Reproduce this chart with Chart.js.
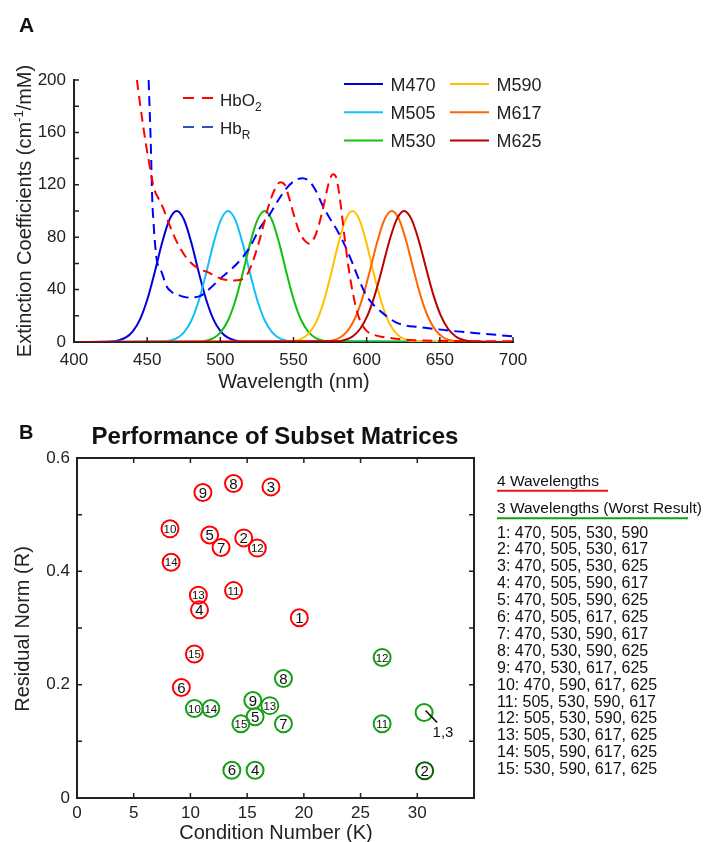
<!DOCTYPE html>
<html>
<head>
<meta charset="utf-8">
<title>LED spectra and subset matrices</title>
<script src="https://cdn.jsdelivr.net/npm/chart.js@4.4.1/dist/chart.umd.min.js"></script>
<style>
html,body{margin:0;padding:0;background:#fff;}
body{width:707px;height:842px;position:relative;overflow:hidden;}
canvas{position:absolute;left:0;}
#chartA{top:0;}
#chartB{top:400px;}
</style>
</head>
<body>
<canvas id="chartA" width="707" height="395"></canvas>
<canvas id="chartB" width="707" height="442"></canvas>
<script>
// panel A: extinction spectra (cm-1/mM)
const hbo2Wl  = [443,445,447,449,451,453,455,458,461,465,470,477,485,491,500,509,514,518,521,525,529,533,537,541,544,547,550,554,558,561,564,567,571,574,577,579,581,583,585,588,591,594,597,600,605,610,620,630,650,680,700];
const hbo2Val = [200,183,167,152,139,126,116,109,102,90,77,64,56,53.5,48.5,47,47.5,51,58,71,87,104,116,122,120,110,98,84,77,75,79,88,106,121,128,126,115,98,79,54,35,21,13,8.5,5.5,4,2.5,1.5,0.9,0.6,0.6];
const hbrWl   = [451,452.5,453.5,454.3,455.3,456.5,458,460,463,467,471,478,486,493,500,507,514,520,527,533,540,545,550,556,561,565,570,575,580,585,590,595,600,605,610,615,620,625,635,645,660,680,700];
const hbrVal  = [200,150,108,92,76,63,57,53,43,38,36,34,35,41,48.5,55,63,72,87,96,109,117,122.5,125,122.5,116,104,94,85,74,61,47,35,28,23,18.5,15,13,11.5,10.2,8.3,6.3,4.3];

// LED emission spectra, normalised to 100, sampled every 5 nm around the peak
const ledNames   = ['M470','M505','M530','M590','M617','M625'];
const ledPeaks   = [470.2, 505.3, 530.3, 590.3, 617.2, 625.6];
const ledOffsets = [-45,-40,-35,-30,-25,-20,-15,-10,-5,0,5,10,15,20,25,30,35,40,45];
const m470 = [0.4,1.2,3.3,8.2,17.5,32.8,53.4,75.7,93.3,100,93.3,75.7,53.4,32.8,17.5,8.2,3.3,1.2,0.4];
const m505 = [0.3,1.0,3.0,7.6,16.6,31.7,52.4,75.1,93.1,100,93.1,75.1,52.4,31.7,16.6,7.6,3.0,1.0,0.3];
const m530 = [0.3,1.0,3.0,7.6,16.6,31.7,52.4,75.1,93.1,100,93.1,75.1,52.4,31.7,16.6,7.6,3.0,1.0,0.3];
const m590 = [0.2,0.8,2.4,6.4,14.8,29.5,50.3,73.7,92.7,100,92.7,73.7,50.3,29.5,14.8,6.4,2.4,0.8,0.2];
const m617 = [0.4,1.3,3.6,8.8,18.5,33.9,54.4,76.3,93.5,100,93.5,76.3,54.4,33.9,18.5,8.8,3.6,1.3,0.4];
const m625 = [0.6,1.7,4.4,10.1,20.3,36.0,56.3,77.5,93.8,100,93.8,77.5,56.3,36.0,20.3,10.1,4.4,1.7,0.6];
const ledValues = [m470, m505, m530, m590, m617, m625];

// panel B: condition number K and residual norm R of each subset
const redLabels   = ['1','2','3','4','5','6','7','8','9','10','11','12','13','14','15'];
const redK        = [19.6,14.7,17.1,10.8,11.7,9.2,12.7,13.8,11.1,8.2,13.8,15.9,10.7,8.3,10.35];
const redR        = [0.318,0.459,0.549,0.332,0.464,0.195,0.442,0.555,0.539,0.475,0.366,0.441,0.358,0.416,0.254];
const greenLabels = ['1,3','2','4','5','6','7','8','9','10','11','12','13','14','15'];
const greenK      = [30.6,30.65,15.7,15.7,13.65,18.2,18.2,15.5,10.35,26.9,26.9,17.0,11.8,14.45];
const greenR      = [0.151,0.048,0.049,0.1435,0.049,0.131,0.211,0.172,0.158,0.131,0.248,0.163,0.158,0.131];
const combos = ['470, 505, 530, 590','470, 505, 530, 617','470, 505, 530, 625','470, 505, 590, 617','470, 505, 590, 625',
  '470, 505, 617, 625','470, 530, 590, 617','470, 530, 590, 625','470, 530, 617, 625','470, 590, 617, 625',
  '505, 530, 590, 617','505, 530, 590, 625','505, 530, 617, 625','505, 590, 617, 625','530, 590, 617, 625'];

const FONT = '"Liberation Sans", Arial, Helvetica, sans-serif';
const INK = '#222';
const ledColors = ['#0000dd','#10c0f8','#10bf10','#ffc000','#ff6600','#bb0000'];

Chart.defaults.font.family = FONT;
Chart.defaults.color = INK;

const pairs = (xs, ys) => xs.map((x, i) => ({x: x, y: ys[i]}));

// draws a run of text pieces (for sub/superscripts), anchored left or centred
function richText(ctx, parts, x, y, align){
  let w = 0;
  parts.forEach(p => { ctx.font = (p.bold ? 'bold ' : '') + p.size + 'px ' + FONT; p.w = ctx.measureText(p.t).width; w += p.w; });
  let cx = align === 'center' ? x - w / 2 : x;
  ctx.textAlign = 'left';
  ctx.textBaseline = 'alphabetic';
  parts.forEach(p => {
    ctx.font = (p.bold ? 'bold ' : '') + p.size + 'px ' + FONT;
    ctx.fillText(p.t, cx, y + (p.dy || 0));
    cx += p.w;
  });
}

// MATLAB-like inward tick marks, optionally on all four sides
const innerTicks = {
  id: 'innerTicks',
  afterDraw(chart, args, o){
    const ctx = chart.ctx, a = chart.chartArea, sx = chart.scales.x, sy = chart.scales.y;
    const len = o.len || 5;
    ctx.save();
    ctx.strokeStyle = INK;
    ctx.lineWidth = 1.5;
    ctx.beginPath();
    sx.ticks.forEach(t => {
      const px = sx.getPixelForValue(t.value);
      ctx.moveTo(px, a.bottom); ctx.lineTo(px, a.bottom - len);
      if (o.box) { ctx.moveTo(px, a.top); ctx.lineTo(px, a.top + len); }
    });
    sy.ticks.forEach(t => {
      const py = sy.getPixelForValue(t.value);
      ctx.moveTo(a.left, py); ctx.lineTo(a.left + len, py);
      if (o.box) { ctx.moveTo(a.right, py); ctx.lineTo(a.right - len, py); }
    });
    ctx.stroke();
    if (o.box) { ctx.lineWidth = 2; ctx.strokeRect(a.left, a.top, a.right - a.left, a.bottom - a.top); }
    ctx.restore();
  }
};

const panelA = {
  id: 'panelA',
  afterDraw(chart){
    const ctx = chart.ctx;
    ctx.save();
    ctx.fillStyle = '#111';
    richText(ctx, [{t:'A', size:21, bold:true}], 19, 32, 'left');
    ctx.fillStyle = INK;
    // axis titles
    ctx.save();
    ctx.translate(31, 211);
    ctx.rotate(-Math.PI / 2);
    richText(ctx, [{t:'Extinction Coefficients (cm', size:20}, {t:'-1', size:13, dy:-8}, {t:'/mM)', size:20}], 0, 0, 'center');
    ctx.restore();
    richText(ctx, [{t:'Wavelength (nm)', size:20}], 294, 388, 'center');
    // legend: haemoglobin
    ctx.lineWidth = 2;
    ctx.setLineDash([11, 8]);
    ctx.strokeStyle = '#ff0000';
    ctx.beginPath(); ctx.moveTo(183, 98); ctx.lineTo(214, 98); ctx.stroke();
    ctx.strokeStyle = '#3050c0';
    ctx.beginPath(); ctx.moveTo(183, 127); ctx.lineTo(214, 127); ctx.stroke();
    ctx.setLineDash([]);
    richText(ctx, [{t:'HbO', size:17}, {t:'2', size:12, dy:5}], 220, 106, 'left');
    richText(ctx, [{t:'Hb', size:17}, {t:'R', size:12, dy:5}], 220, 134, 'left');
    // legend: LEDs in two columns
    ledNames.forEach((name, i) => {
      const col = Math.floor(i / 3), row = i % 3;
      const lx = col ? 450 : 344, ly = 84 + row * 28.3;
      ctx.strokeStyle = ledColors[i];
      ctx.beginPath(); ctx.moveTo(lx, ly); ctx.lineTo(lx + 39, ly); ctx.stroke();
      richText(ctx, [{t:name, size:18}], lx + 46.5, ly + 6.5, 'left');
    });
    ctx.restore();
  }
};

const ledSets = ledNames.map((name, i) => ({
  label: name,
  data: [{x:400, y:0}].concat(ledOffsets.map((o, k) => ({x: ledPeaks[i] + o, y: ledValues[i][k]})), [{x:700, y:0}]),
  borderColor: ledColors[i],
  borderWidth: 2,
  pointRadius: 0,
  fill: false,
  cubicInterpolationMode: 'monotone'
})).reverse();

new Chart(document.getElementById('chartA'), {
  type: 'line',
  data: {
    datasets: [
      {label:'HbO2', data: pairs(hbo2Wl, hbo2Val), borderColor:'#ff0000', borderDash:[10,6], borderWidth:2, pointRadius:0, fill:false, cubicInterpolationMode:'monotone'},
      {label:'HbR', data: pairs(hbrWl, hbrVal), borderColor:'#0000ff', borderDash:[10,6], borderWidth:2, pointRadius:0, fill:false, cubicInterpolationMode:'monotone'}
    ].concat(ledSets)
  },
  options: {
    responsive: false,
    animation: false,
    devicePixelRatio: 1,
    layout: {padding: {left:0, top:80, right:194, bottom:0}},
    plugins: {legend: {display:false}, tooltip: {enabled:false}, innerTicks: {len:5, box:false}},
    scales: {
      x: {
        type: 'linear', min: 400, max: 700,
        ticks: {stepSize: 50, autoSkip: false, padding: 8, color: INK, font: {size: 17}},
        grid: {display: false, drawTicks: false},
        border: {color: INK, width: 2},
        afterFit(s){ s.height = 53; }
      },
      y: {
        min: 0, max: 200,
        ticks: {stepSize: 20, autoSkip: false, padding: 8, color: INK, font: {size: 17},
          callback: v => (v % 40 === 0 ? String(v) : '')},
        grid: {display: false, drawTicks: false},
        border: {color: INK, width: 2},
        afterFit(s){ s.width = 74; }
      }
    }
  },
  plugins: [innerTicks, panelA]
});

const panelB = {
  id: 'panelB',
  afterDraw(chart){
    const ctx = chart.ctx;
    ctx.save();
    ctx.fillStyle = '#111';
    richText(ctx, [{t:'B', size:20, bold:true}], 19, 39, 'left');
    richText(ctx, [{t:'Performance of Subset Matrices', size:24, bold:true}], 275, 43.5, 'center');
    ctx.fillStyle = INK;
    ctx.save();
    ctx.translate(29, 229);
    ctx.rotate(-Math.PI / 2);
    richText(ctx, [{t:'Residual Norm (R)', size:20}], 0, 0, 'center');
    ctx.restore();
    richText(ctx, [{t:'Condition Number (K)', size:20}], 276, 439, 'center');
    // point labels
    chart.data.datasets.forEach((ds, di) => {
      chart.getDatasetMeta(di).data.forEach((pt, i) => {
        const lab = ds.labels[i];
        if (lab === '1,3') {
          ctx.strokeStyle = '#000';
          ctx.lineWidth = 1.5;
          ctx.beginPath(); ctx.moveTo(pt.x + 1.5, pt.y - 2); ctx.lineTo(pt.x + 13, pt.y + 10); ctx.stroke();
          ctx.fillStyle = '#111';
          richText(ctx, [{t:'1,3', size:15}], pt.x + 8.5, pt.y + 24.5, 'left');
          return;
        }
        ctx.fillStyle = '#111';
        ctx.font = (lab.length > 1 ? 11.5 : 15) + 'px ' + FONT;
        ctx.textAlign = 'center';
        ctx.textBaseline = 'middle';
        ctx.fillText(lab, pt.x, pt.y + 1);
      });
    });
    // legend on the right
    ctx.fillStyle = '#111';
    richText(ctx, [{t:'4 Wavelengths', size:15.5}], 497, 85.5, 'left');
    richText(ctx, [{t:'3 Wavelengths (Worst Result)', size:15.5}], 497, 113, 'left');
    ctx.lineWidth = 2;
    ctx.strokeStyle = '#ee1111';
    ctx.beginPath(); ctx.moveTo(497, 90.7); ctx.lineTo(608, 90.7); ctx.stroke();
    ctx.strokeStyle = '#13a013';
    ctx.beginPath(); ctx.moveTo(497, 118.3); ctx.lineTo(688, 118.3); ctx.stroke();
    combos.forEach((c, i) => {
      richText(ctx, [{t:(i + 1) + ': ' + c, size:16}], 497, 137.5 + i * 16.9, 'left');
    });
    ctx.restore();
  }
};

new Chart(document.getElementById('chartB'), {
  type: 'scatter',
  data: {
    datasets: [
      {label:'4 Wavelengths', labels: redLabels, data: pairs(redK, redR),
        pointStyle:'circle', pointRadius:8.5, pointBorderWidth:2, pointBorderColor:'#ff0000', pointBackgroundColor:'rgba(255,255,255,0)'},
      {label:'3 Wavelengths (Worst Result)', labels: greenLabels, data: pairs(greenK, greenR),
        pointStyle:'circle', pointRadius:8.5, pointBorderWidth:2,
        pointBorderColor: greenLabels.map(l => (l === '2' ? '#0b600b' : '#14a014')), pointBackgroundColor:'rgba(255,255,255,0)'}
    ]
  },
  options: {
    responsive: false,
    animation: false,
    devicePixelRatio: 1,
    layout: {padding: {left:0, top:58, right:233, bottom:0}},
    plugins: {legend: {display:false}, tooltip: {enabled:false}, innerTicks: {len:5, box:true}},
    scales: {
      x: {
        type: 'linear', min: 0, max: 35,
        ticks: {stepSize: 5, autoSkip: false, padding: 5, color: INK, font: {size: 17},
          callback: v => (v === 35 ? '' : String(v))},
        grid: {display: false, drawTicks: false},
        border: {color: INK, width: 2},
        afterFit(s){ s.height = 44; }
      },
      y: {
        min: 0, max: 0.6,
        ticks: {stepSize: 0.1, autoSkip: false, padding: 7, color: INK, font: {size: 17},
          callback: v => { const t = Math.round(v * 10); return t % 2 === 0 ? (t === 0 ? '0' : String(t / 10)) : ''; }},
        grid: {display: false, drawTicks: false},
        border: {color: INK, width: 2},
        afterFit(s){ s.width = 77; }
      }
    }
  },
  plugins: [innerTicks, panelB]
});
</script>
</body>
</html>
